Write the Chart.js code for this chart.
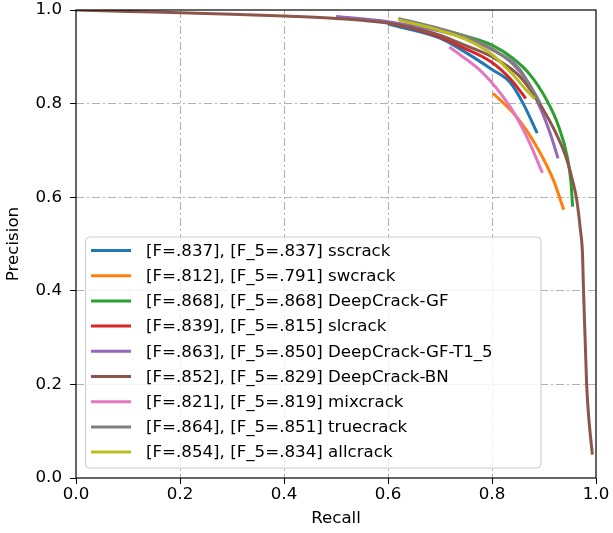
<!DOCTYPE html>
<html>
<head>
<meta charset="utf-8">
<script src="https://cdn.jsdelivr.net/npm/chart.js@4.4.1/dist/chart.umd.min.js"></script>
<style>
  html, body { margin: 0; padding: 0; background: #fff; }
  #wrap { width: 613px; height: 533px; }
</style>
</head>
<body>
<div id="wrap"><canvas id="pr"></canvas></div>
<script>
// recall (x) / precision (y)
const sscrackR = [0.60, 0.70, 0.738, 0.80, 0.835, 0.86, 0.887];
const sscrackP = [0.970, 0.940, 0.917, 0.873, 0.845, 0.800, 0.737];

const swcrackR = [0.802, 0.847, 0.886, 0.918, 0.938];
const swcrackP = [0.822, 0.772, 0.708, 0.637, 0.573];

const gfR = [0.60, 0.70, 0.75, 0.80, 0.84, 0.873, 0.905, 0.927, 0.945, 0.952, 0.955];
const gfP = [0.972, 0.957, 0.944, 0.925, 0.897, 0.862, 0.808, 0.755, 0.685, 0.630, 0.580];

const slcrackR = [0.575, 0.65, 0.70, 0.738, 0.80, 0.835, 0.865];
const slcrackP = [0.978, 0.960, 0.942, 0.923, 0.888, 0.853, 0.811];

const gfT15R = [0.50, 0.60, 0.70, 0.75, 0.80, 0.854, 0.892, 0.912, 0.927];
const gfT15P = [0.986, 0.975, 0.955, 0.940, 0.915, 0.872, 0.793, 0.736, 0.683];

const bnR = [0.0, 0.1, 0.2, 0.3, 0.4, 0.5, 0.6, 0.65, 0.70, 0.738, 0.80, 0.85, 0.88, 0.91, 0.93, 0.944, 0.955, 0.963, 0.970, 0.974, 0.976, 0.979, 0.982, 0.986, 0.993];
const bnP = [1.0, 0.997, 0.994, 0.991, 0.987, 0.982, 0.972, 0.961, 0.946, 0.929, 0.900, 0.862, 0.820, 0.765, 0.720, 0.680, 0.635, 0.594, 0.530, 0.480, 0.400, 0.300, 0.200, 0.130, 0.050];

const mixR = [0.718, 0.738, 0.783, 0.835, 0.867, 0.897];
const mixP = [0.921, 0.905, 0.865, 0.793, 0.729, 0.652];

const trueR = [0.62, 0.70, 0.75, 0.80, 0.84, 0.87, 0.893];
const trueP = [0.982, 0.960, 0.943, 0.917, 0.885, 0.845, 0.800];

const allR = [0.62, 0.70, 0.75, 0.80, 0.84, 0.865, 0.882];
const allP = [0.979, 0.956, 0.937, 0.905, 0.862, 0.830, 0.810];

const seriesNames = [
  "[F=.837], [F_5=.837] sscrack",
  "[F=.812], [F_5=.791] swcrack",
  "[F=.868], [F_5=.868] DeepCrack-GF",
  "[F=.839], [F_5=.815] slcrack",
  "[F=.863], [F_5=.850] DeepCrack-GF-T1_5",
  "[F=.852], [F_5=.829] DeepCrack-BN",
  "[F=.821], [F_5=.819] mixcrack",
  "[F=.864], [F_5=.851] truecrack",
  "[F=.854], [F_5=.834] allcrack"
];
const seriesR = [sscrackR, swcrackR, gfR, slcrackR, gfT15R, bnR, mixR, trueR, allR];
const seriesP = [sscrackP, swcrackP, gfP, slcrackP, gfT15P, bnP, mixP, trueP, allP];
const colors = ["#1f77b4", "#ff7f0e", "#2ca02c", "#d62728", "#9467bd", "#8c564b", "#e377c2", "#7f7f7f", "#bcbd22"];

const tickLabels = ["0.0", "0.2", "0.4", "0.6", "0.8", "1.0"];

const FONT = "DejaVu Sans";
const FSIZE = 16.67;

const datasets = seriesNames.map((name, i) => ({
  label: name,
  data: seriesR[i].map((r, k) => ({ x: r, y: seriesP[i][k] })),
  borderColor: colors[i],
  backgroundColor: colors[i],
  borderWidth: 3,
  pointRadius: 0,
  fill: false,
  cubicInterpolationMode: "monotone",
  order: seriesNames.length - i   // later series on top, like matplotlib
}));

// black frame around the axes
const framePlugin = {
  id: "frame",
  afterDatasetsDraw(chart) {
    const { ctx, chartArea: a } = chart;
    ctx.save();
    ctx.strokeStyle = "#000";
    ctx.lineWidth = 1.2;
    ctx.strokeRect(a.left, a.top, a.right - a.left, a.bottom - a.top);
    ctx.restore();
  }
};

// matplotlib style legend inside the plot
const legendPlugin = {
  id: "mplLegend",
  afterDraw(chart) {
    const ctx = chart.ctx;
    const bx = 85.5, by = 237, bw = 455.5, bh = 231, rad = 4;
    ctx.save();
    ctx.beginPath();
    ctx.roundRect(bx, by, bw, bh, rad);
    ctx.fillStyle = "rgba(255,255,255,0.8)";
    ctx.fill();
    ctx.strokeStyle = "#cccccc";
    ctx.lineWidth = 1;
    ctx.stroke();

    ctx.font = FSIZE + "px '" + FONT + "'";
    ctx.textBaseline = "middle";
    ctx.textAlign = "left";
    chart.data.datasets.forEach((ds, i) => {
      const y = 250.5 + i * 25.2;
      ctx.beginPath();
      ctx.moveTo(91, y);
      ctx.lineTo(131, y);
      ctx.strokeStyle = ds.borderColor;
      ctx.lineWidth = 3;
      ctx.stroke();
      ctx.fillStyle = "#000";
      ctx.fillText(ds.label, 146, y + 1);
    });
    ctx.restore();
  }
};

const gridOpts = {
  color: (c) => (c.tick && (c.tick.value === 0 || c.tick.value === 1)) ? "rgba(0,0,0,0)" : "#b0b0b0",
  lineWidth: 1,
  drawTicks: true,
  tickLength: 6,
  tickColor: "#000",
  tickWidth: 1
};

new Chart(document.getElementById("pr"), {
  type: "line",
  data: { datasets: datasets },
  options: {
    responsive: true,
    maintainAspectRatio: false,
    animation: false,
    layout: { padding: { top: 10, right: 17, left: 0, bottom: 0 } },
    plugins: {
      legend: { display: false },
      tooltip: { enabled: false }
    },
    scales: {
      x: {
        type: "linear",
        min: 0,
        max: 1,
        afterFit: (s) => { s.height = 55; s.paddingLeft = 0; s.paddingRight = 0; },
        afterBuildTicks: (s) => { s.ticks = tickLabels.map(t => ({ value: parseFloat(t) })); },
        ticks: {
          padding: 1,
          color: "#000",
          font: { family: FONT, size: FSIZE },
          maxRotation: 0,
          callback: (v) => v.toFixed(1)
        },
        grid: gridOpts,
        border: { display: false, dash: [8, 3, 2, 3] },
        title: {
          display: true,
          text: "Recall",
          color: "#000",
          font: { family: FONT, size: FSIZE },
          padding: { top: 0, bottom: 4 }
        }
      },
      y: {
        type: "linear",
        min: 0,
        max: 1,
        afterFit: (s) => { s.width = 76; s.paddingTop = 0; s.paddingBottom = 0; },
        afterBuildTicks: (s) => { s.ticks = tickLabels.map(t => ({ value: parseFloat(t) })); },
        ticks: {
          padding: 8,
          color: "#000",
          font: { family: FONT, size: FSIZE },
          callback: (v) => v.toFixed(1)
        },
        grid: gridOpts,
        border: { display: false, dash: [8, 3, 2, 3] },
        title: {
          display: true,
          text: "Precision",
          color: "#000",
          font: { family: FONT, size: FSIZE },
          padding: { top: 4, bottom: 0 }
        }
      }
    }
  },
  plugins: [framePlugin, legendPlugin]
});
</script>
</body>
</html>
